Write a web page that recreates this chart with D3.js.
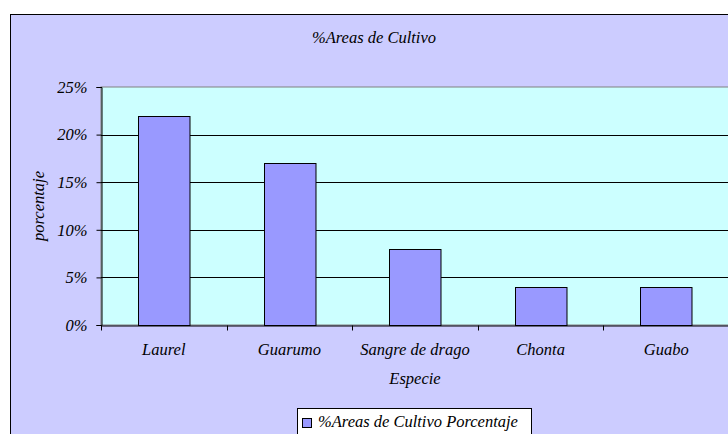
<!DOCTYPE html>
<html>
<head>
<meta charset="utf-8">
<script src="https://cdn.jsdelivr.net/npm/d3@7"></script>
<style>
  body { margin: 0; background: #fff; }
  svg { display: block; }
</style>
</head>
<body>
<div id="chart"></div>
<script>
// data
const especies = ["Laurel", "Guarumo", "Sangre de drago", "Chonta", "Guabo"];
const porcentajes = [0.22, 0.17, 0.08, 0.04, 0.04];
const yTicks = [0, 0.05, 0.10, 0.15, 0.20, 0.25];

const width = 728, height = 434;
const plot = { left: 101, top: 87, right: 729, bottom: 325 };
const serif = '"Liberation Serif", serif';

const svg = d3.select("#chart").append("svg")
  .attr("width", width)
  .attr("height", height)
  .style("font-family", serif);

// outer chart frame (runs off the right and bottom edges)
svg.append("rect")
  .attr("x", 10.5).attr("y", 14.5)
  .attr("width", 760).attr("height", 460)
  .attr("fill", "#CCCCFF")
  .attr("stroke", "#000");

const x = d3.scaleBand()
  .domain(especies)
  .range([plot.left, plot.right])
  .paddingInner(0.59)
  .paddingOuter(0.295);

const xOuter = d3.scaleBand()
  .domain(especies)
  .range([plot.left, plot.right]);

const y = d3.scaleLinear()
  .domain([0, 0.25])
  .range([plot.bottom, plot.top]);

// plot background
svg.append("rect")
  .attr("x", plot.left).attr("y", plot.top)
  .attr("width", plot.right - plot.left)
  .attr("height", plot.bottom - plot.top)
  .attr("fill", "#CCFFFF")
  .attr("stroke", "#808080");

// gridlines
svg.append("g")
  .selectAll("line")
  .data(yTicks.filter(d => d > 0 && d < 0.25))
  .enter()
  .append("line")
  .attr("x1", plot.left).attr("x2", plot.right)
  .attr("y1", d => Math.round(y(d)) + 0.5)
  .attr("y2", d => Math.round(y(d)) + 0.5)
  .attr("stroke", "#000");

// bars
svg.append("g")
  .selectAll("rect")
  .data(porcentajes)
  .enter()
  .append("rect")
  .attr("x", (d, i) => Math.round(x(especies[i])) + 0.5)
  .attr("y", d => Math.round(y(d)) + 0.5)
  .attr("width", x.bandwidth())
  .attr("height", d => plot.bottom - Math.round(y(d)))
  .attr("fill", "#9999FF")
  .attr("stroke", "#000");

// y axis
const yAxis = svg.append("g")
  .attr("transform", `translate(${plot.left + 0.5},0)`)
  .call(d3.axisLeft(y)
    .tickValues(yTicks)
    .tickFormat(d3.format(".0%"))
    .tickSize(5)
    .tickPadding(9));
yAxis.select(".domain").attr("stroke", "#000");
yAxis.selectAll(".tick line").attr("stroke", "#000");

// x axis: ticks sit on the category boundaries
const xAxis = svg.append("g")
  .attr("transform", `translate(0,${plot.bottom + 0.5})`)
  .call(d3.axisBottom(xOuter).tickSize(0).tickPadding(18));
xAxis.select(".domain").attr("stroke", "#000");

xAxis.selectAll(".boundary")
  .data(especies)
  .enter()
  .append("line")
  .attr("class", "boundary")
  .attr("x1", d => Math.round(xOuter(d)) + 0.5)
  .attr("x2", d => Math.round(xOuter(d)) + 0.5)
  .attr("y1", 0).attr("y2", 5)
  .attr("stroke", "#000");

// axis groups carry their own font attributes; drop them
svg.selectAll("g").attr("font-family", null).attr("font-size", null);

// titles
svg.append("text")
  .attr("x", 374).attr("y", 43)
  .attr("text-anchor", "middle")
  .text("%Areas de Cultivo");

svg.append("text")
  .attr("x", (plot.left + plot.right) / 2).attr("y", 384)
  .attr("text-anchor", "middle")
  .text("Especie");

svg.append("text")
  .attr("transform", `translate(44,${(plot.top + plot.bottom) / 2}) rotate(-90)`)
  .attr("text-anchor", "middle")
  .text("porcentaje");

// legend
const legend = svg.append("g").attr("transform", "translate(297.5,408.5)");
legend.append("rect")
  .attr("width", 234).attr("height", 40)
  .attr("fill", "#fff")
  .attr("stroke", "#000");
legend.append("rect")
  .attr("x", 5).attr("y", 10)
  .attr("width", 9).attr("height", 9)
  .attr("fill", "#9999FF")
  .attr("stroke", "#000");
legend.append("text")
  .attr("x", 20.5).attr("y", 18.5)
  .text("%Areas de Cultivo Porcentaje");

// one serif italic style for every label
svg.selectAll("text")
  .style("font-family", serif)
  .style("font-style", "italic")
  .style("font-size", "16.5px")
  .attr("fill", "#000");
</script>
</body>
</html>
